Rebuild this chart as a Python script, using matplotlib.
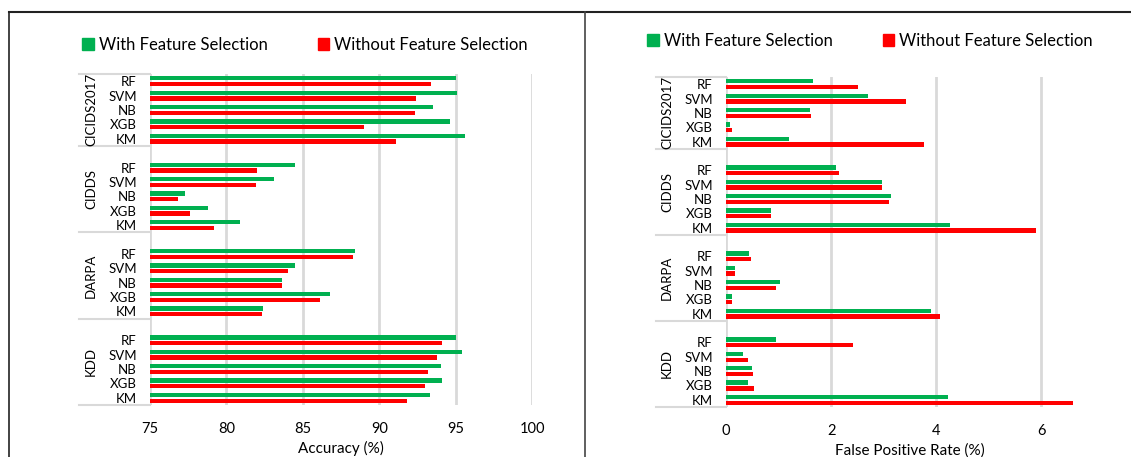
import numpy as np
import matplotlib
matplotlib.use("Agg")
import matplotlib.pyplot as plt
from matplotlib.lines import Line2D
from matplotlib.patches import Patch
import matplotlib.transforms as mtransforms

plt.rcParams['font.family'] = ['Lato', 'DejaVu Sans']

datasets = ['CICIDS2017', 'CIDDS', 'DARPA', 'KDD']
models = ['RF', 'SVM', 'NB', 'XGB', 'KM']

# accuracy (%), rows = datasets, cols = models
acc_with = [[95.0, 95.1, 93.5, 94.6, 95.6],
            [84.5, 83.1, 77.3, 78.8, 80.9],
            [88.4, 84.5, 83.6, 86.8, 82.4],
            [95.0, 95.4, 94.0, 94.1, 93.3]]
acc_without = [[93.4, 92.4, 92.3, 89.0, 91.1],
               [82.0, 81.9, 76.8, 77.6, 79.2],
               [88.3, 84.0, 83.6, 86.1, 82.3],
               [94.1, 93.8, 93.2, 93.0, 91.8]]

# false positive rate (%)
fpr_with = [[1.66, 2.70, 1.59, 0.07, 1.20],
            [2.10, 2.97, 3.13, 0.86, 4.26],
            [0.44, 0.17, 1.03, 0.11, 3.90],
            [0.96, 0.32, 0.49, 0.42, 4.23]]
fpr_without = [[2.52, 3.42, 1.62, 0.11, 3.77],
               [2.15, 2.97, 3.10, 0.86, 5.90],
               [0.47, 0.17, 0.96, 0.11, 4.08],
               [2.42, 0.42, 0.52, 0.54, 6.60]]

GREEN = '#00B050'
RED = '#FF0000'
GRID = '#D9D9D9'

W, H = 1131, 457
fig = plt.figure(figsize=(W / 100, H / 100), dpi=100)


def px_axes(x0, x1, y0, y1):
    return fig.add_axes([x0 / W, 1 - y1 / H, (x1 - x0) / W, (y1 - y0) / H])


# slot layout: 5 rows per group, one blank slot in front of every group but the first
rows = []
for g in range(len(datasets)):
    start = 0 if g == 0 else g * 6
    for m in range(len(models)):
        rows.append(start + m + 0.5)
rows = np.array(rows)
seps = [0, 5, 11, 17, 23]


def draw_panel(ax, vals_with, vals_without, xlim, xticks, xlabel, label_x, sep_x):
    w = np.array(vals_with).ravel()
    wo = np.array(vals_without).ravel()
    h = 0.3
    ax.barh(rows - 0.2, w - xlim[0], left=xlim[0], height=h, color=GREEN)
    ax.barh(rows + 0.2, wo - xlim[0], left=xlim[0], height=h, color=RED)
    ax.set_xlim(*xlim)
    ax.set_ylim(23, 0)
    ax.set_xticks(xticks)
    ax.set_xticklabels([str(t) for t in xticks], fontsize=10.5)
    ax.set_yticks(rows)
    ax.set_yticklabels(models * len(datasets), fontsize=9.5)
    ax.tick_params(axis='y', length=0, pad=9.5)
    ax.tick_params(axis='x', length=0, pad=12)
    ax.xaxis.grid(True, color=GRID, linewidth=2)
    ax.set_axisbelow(True)
    for s in ax.spines.values():
        s.set_visible(False)
    ax.set_xlabel(xlabel, fontsize=11, labelpad=4)

    trans = mtransforms.blended_transform_factory(ax.transAxes, ax.transData)
    for y in seps:
        ax.plot([sep_x, 0], [y, y], color=GRID, linewidth=1.5,
                transform=trans, clip_on=False)
    for g, name in enumerate(datasets):
        yc = (seps[g] + seps[g + 1]) / 2
        ax.text(label_x, yc, name, rotation=90, ha='center', va='center',
                fontsize=9.5, transform=trans)


ax1 = px_axes(150, 532.3, 74, 405)
draw_panel(ax1, acc_with, acc_without, (75, 100), [75, 80, 85, 90, 95, 100],
           'Accuracy (%)', (91 - 150) / 382.3, (79 - 150) / 382.3)

ax2 = px_axes(726, 1093.9, 77, 407)
draw_panel(ax2, fpr_with, fpr_without, (0, 7), [0, 2, 4, 6],
           'False Positive Rate (%)', (667 - 726) / 367.9, (656 - 726) / 367.9)

handles = [Patch(color=GREEN, label='With Feature Selection'),
           Patch(color=RED, label='Without Feature Selection')]
for cx, cy in [(305, 45), (870, 41)]:
    fig.legend(handles=handles, loc='center', bbox_to_anchor=(cx / W, 1 - cy / H),
               ncol=2, frameon=False, fontsize=12, handlelength=0.7,
               handleheight=0.7, handletextpad=0.3, columnspacing=3.0)

# table frame around the two charts
fig.add_artist(Line2D([9 / W, 1], [1 - 12 / H, 1 - 12 / H], color='#222222', linewidth=1.5))
fig.add_artist(Line2D([9 / W, 9 / W], [0, 1 - 12 / H], color='#222222', linewidth=1.2))
fig.add_artist(Line2D([585 / W, 585 / W], [0, 1 - 12 / H], color='#444444', linewidth=1.2))

fig.savefig('out.png', dpi=100)
